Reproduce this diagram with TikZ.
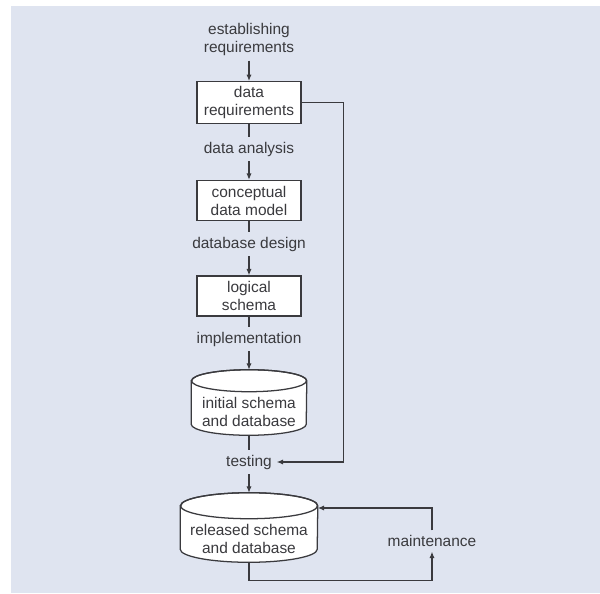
\documentclass[tikz,border=0pt]{standalone}
\usepackage{fontspec}
\setmainfont{Liberation Sans}
\usepackage{xcolor}
\usetikzlibrary{arrows.meta,positioning,backgrounds}
\definecolor{panelblue}{RGB}{223,228,240}
\definecolor{inkgray}{RGB}{58,58,62}

% drum outline round a named node: node, x radius, y radius
\newcommand{\drumoutline}[3]{%
  \path[fill=white, draw=inkgray, line width=0.9pt]
    ([yshift=-#3]#1.north west) -- ([yshift=#3]#1.south west)
    arc[start angle=180, end angle=360, x radius=#2, y radius=#3]
    -- ([yshift=-#3]#1.north east)
    arc[start angle=0, end angle=180, x radius=#2, y radius=#3] -- cycle;
  \draw[inkgray, line width=0.9pt] ([yshift=-#3]#1.north) ellipse[x radius=#2, y radius=#3];
}

\begin{document}
\begin{tikzpicture}[
    font=\fontsize{11}{12.8}\selectfont,
    >=Latex,
    on grid,
    node distance=1.3cm,
    stage/.style={
        rectangle,
        draw=inkgray,
        fill=white,
        line width=0.9pt,
        minimum width=2.6cm,
        minimum height=1.0cm,
        align=center,
        text=inkgray
    },
    store/.style={
        rectangle,
        align=center,
        text=inkgray,
        text depth=0cm
    },
    steplabel/.style={
        align=center,
        text=inkgray
    },
    arrow/.style={
        -{Latex[length=1.6mm,width=1.3mm]},
        line width=0.8pt,
        draw=inkgray
    },
    link/.style={
        line width=0.8pt,
        draw=inkgray
    }
]

\useasboundingbox (0,0) rectangle (15,-14.825);
\begin{scope}[on background layer]
\fill[white] (0,0) rectangle (15,-14.825);
\fill[panelblue] (0.285,-0.15) rectangle (15,-14.825);
\end{scope}

\node[steplabel] (establish) at (6.225,-0.9875) {establishing\\requirements};
\node[stage, below=1.575cm of establish] (datareq) {data\\requirements};
\node[steplabel, below=1.1625cm of datareq] (analysis) {data analysis};
\node[stage, below=1.2875cm of analysis] (concept) {conceptual\\data model};
\node[steplabel, below=1.0875cm of concept] (design) {database design};
\node[stage, below=1.3cm of design] (logical) {logical\\schema};
\node[steplabel, below=1.075cm of logical] (implement) {implementation};
\node[store, below=1.5875cm of implement, minimum width=2.875cm, minimum height=1.625cm,
      text height=1.2cm] (initial) {initial schema\\and database};
\node[steplabel, below=1.4875cm of initial] (testing) {testing};
\node[store, below=1.6375cm of testing, minimum width=3.425cm, minimum height=1.725cm,
      text height=1.32cm] (released) {released schema\\and database};
\node[steplabel, right=4.575cm of released, yshift=-0.3375cm] (maint) {maintenance};

\begin{scope}[on background layer]
\drumoutline{initial}{1.4375cm}{0.275cm}
\drumoutline{released}{1.7125cm}{0.325cm}
\end{scope}

\draw[arrow] (establish) -- (datareq);
\draw[link] (datareq) -- (analysis);
\draw[arrow] (analysis) -- (concept);
\draw[link] (concept) -- (design);
\draw[arrow] (design) -- (logical);
\draw[link] (logical) -- (implement);
\draw[arrow] (implement) -- (initial);
\draw[link] (initial) -- (testing);
\draw[arrow] (testing) -- (released);

\draw[arrow] (datareq.east) -- ++(1.0375,0) |- (testing.east);

\draw[arrow] (released.south) -- ++(0,-0.4625) -| (maint.south);
\draw[arrow] (maint.north) |- ([yshift=0.4875cm]released.east);

\end{tikzpicture}
\end{document}
